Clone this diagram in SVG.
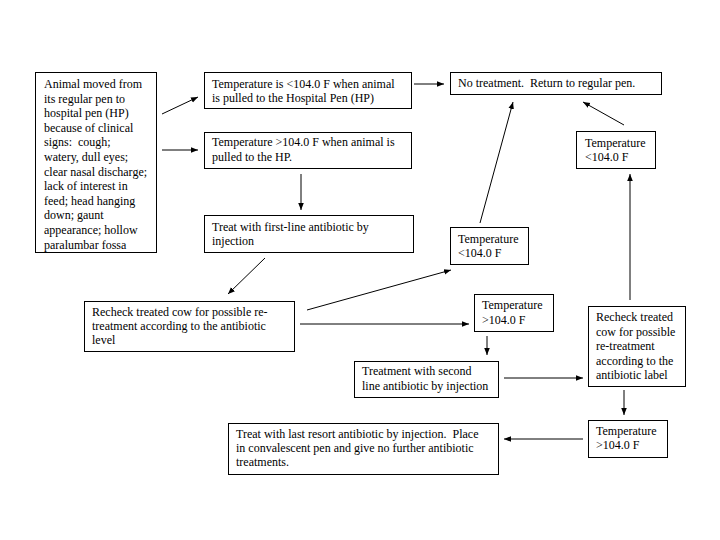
<svg xmlns="http://www.w3.org/2000/svg" width="720" height="540" viewBox="0 0 720 540">
<style>
rect.b{fill:#fff;stroke:#000;stroke-width:1}
text{font-family:"Liberation Serif","Times New Roman",serif;font-size:12px;fill:#000;white-space:pre}
.c line{stroke:#000;stroke-width:1;marker-end:url(#ah)}
</style>
<defs>
<marker id="ah" viewBox="0 0 10 10" refX="10" refY="5" markerWidth="7" markerHeight="7" markerUnits="userSpaceOnUse" orient="auto">
<path d="M0,1 L10,5 L0,9 Z" fill="#000"/>
</marker>
</defs>
<rect width="720" height="540" fill="#fff"/>
<g class="c" id="connectors">
<line x1="162" y1="114" x2="198" y2="97"/>
<line x1="162" y1="150" x2="198" y2="150"/>
<line x1="301" y1="174" x2="301" y2="210"/>
<line x1="414" y1="84" x2="444" y2="84"/>
<line x1="480" y1="223" x2="513" y2="102"/>
<line x1="624" y1="125" x2="583" y2="102"/>
<line x1="630" y1="300" x2="630" y2="174"/>
<line x1="265" y1="258" x2="228" y2="294"/>
<line x1="307" y1="310" x2="451" y2="270"/>
<line x1="300" y1="324" x2="469" y2="324"/>
<line x1="487" y1="336" x2="487" y2="355"/>
<line x1="504" y1="378" x2="583" y2="378"/>
<line x1="624" y1="390" x2="624" y2="415"/>
<line x1="583" y1="439" x2="504" y2="439"/>
</g>
<g id="n_animal">
<rect class="b" x="35.5" y="72.5" width="121" height="180"/>
<text x="44" y="88">Animal moved from</text>
<text x="44" y="102.6">its regular pen to</text>
<text x="44" y="117.2">hospital pen (HP)</text>
<text x="44" y="131.8">because of clinical</text>
<text x="44" y="146.4" xml:space="preserve">signs:  cough;</text>
<text x="44" y="161">watery, dull eyes;</text>
<text x="44" y="175.6">clear nasal discharge;</text>
<text x="44" y="190.2">lack of interest in</text>
<text x="44" y="204.8">feed; head hanging</text>
<text x="44" y="219.4">down; gaunt</text>
<text x="44" y="234">appearance; hollow</text>
<text x="44" y="248.6">paralumbar fossa</text>
</g>
<g id="n_temp_low_hp">
<rect class="b" x="204.5" y="72.5" width="207" height="36"/>
<text x="212" y="88">Temperature is &lt;104.0 F when animal</text>
<text x="212" y="102">is pulled to the Hospital Pen (HP)</text>
</g>
<g id="n_temp_high_hp">
<rect class="b" x="204.5" y="132.5" width="207" height="36"/>
<text x="212" y="146">Temperature &gt;104.0 F when animal is</text>
<text x="212" y="161">pulled to the HP.</text>
</g>
<g id="n_treat_first">
<rect class="b" x="204.5" y="215.5" width="209" height="37"/>
<text x="212" y="231">Treat with first-line antibiotic by</text>
<text x="212" y="245">injection</text>
</g>
<g id="n_no_treatment">
<rect class="b" x="450.5" y="72.5" width="211" height="22"/>
<text x="458" y="87" xml:space="preserve">No treatment.  Return to regular pen.</text>
</g>
<g id="n_temp_low_right">
<rect class="b" x="576.5" y="131.5" width="79" height="37"/>
<text x="585" y="147">Temperature</text>
<text x="585" y="161">&lt;104.0 F</text>
</g>
<g id="n_temp_low_mid">
<rect class="b" x="450.5" y="227.5" width="78" height="37"/>
<text x="458" y="243">Temperature</text>
<text x="458" y="257">&lt;104.0 F</text>
</g>
<g id="n_recheck1">
<rect class="b" x="84.5" y="301.5" width="210" height="50"/>
<text x="92" y="316">Recheck treated cow for possible re-</text>
<text x="92" y="330">treatment according to the antibiotic</text>
<text x="92" y="344">level</text>
</g>
<g id="n_temp_high_mid">
<rect class="b" x="474.5" y="294.5" width="79" height="37"/>
<text x="482" y="309">Temperature</text>
<text x="482" y="324">&gt;104.0 F</text>
</g>
<g id="n_treat_second">
<rect class="b" x="354.5" y="361.5" width="144" height="36"/>
<text x="362" y="375">Treatment with second</text>
<text x="362" y="390">line antibiotic by injection</text>
</g>
<g id="n_recheck2">
<rect class="b" x="588.5" y="306.5" width="97" height="80"/>
<text x="596" y="321">Recheck treated</text>
<text x="596" y="335.5">cow for possible</text>
<text x="596" y="350">re-treatment</text>
<text x="596" y="364.5">according to the</text>
<text x="596" y="379">antibiotic label</text>
</g>
<g id="n_temp_high_low">
<rect class="b" x="588.5" y="420.5" width="79" height="37"/>
<text x="596" y="435">Temperature</text>
<text x="596" y="449">&gt;104.0 F</text>
</g>
<g id="n_last_resort">
<rect class="b" x="228.5" y="423.5" width="270" height="51"/>
<text x="236" y="438" xml:space="preserve">Treat with last resort antibiotic by injection.  Place</text>
<text x="236" y="452">in convalescent pen and give no further antibiotic</text>
<text x="236" y="466">treatments.</text>
</g>
</svg>
